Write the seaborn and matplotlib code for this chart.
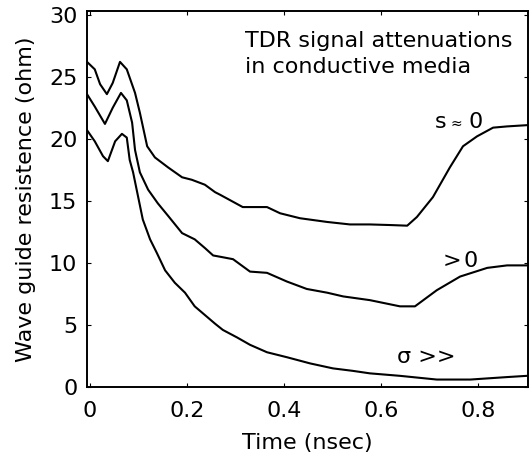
import matplotlib
matplotlib.use("Agg")
import matplotlib.pyplot as plt
import seaborn as sns
import pandas as pd

# --- data ---
t_top = [-0.006, 0.010, 0.021, 0.035, 0.047, 0.062, 0.076, 0.093, 0.103, 0.118, 0.134, 0.161,
         0.190, 0.210, 0.237, 0.258, 0.268, 0.315, 0.365, 0.392, 0.433, 0.489, 0.536, 0.577,
         0.620, 0.654, 0.674, 0.707, 0.742, 0.769, 0.798, 0.831, 0.860, 0.901]
r_top = [26.2, 25.6, 24.4, 23.6, 24.5, 26.2, 25.6, 23.7, 22.1, 19.4, 18.5, 17.7,
         16.9, 16.7, 16.3, 15.7, 15.5, 14.5, 14.5, 14.0, 13.6, 13.3, 13.1, 13.1,
         13.05, 13.0, 13.7, 15.3, 17.7, 19.4, 20.2, 20.9, 21.0, 21.1]

t_mid = [-0.006, 0.010, 0.031, 0.047, 0.064, 0.076, 0.087, 0.093, 0.103, 0.120, 0.140, 0.161,
         0.190, 0.216, 0.237, 0.254, 0.268, 0.295, 0.330, 0.365, 0.406, 0.447, 0.489, 0.522,
         0.577, 0.639, 0.670, 0.715, 0.763, 0.819, 0.860, 0.901]
r_mid = [23.6, 22.6, 21.2, 22.5, 23.7, 23.1, 21.3, 19.1, 17.3, 15.9, 14.8, 13.8,
         12.4, 11.9, 11.2, 10.6, 10.5, 10.3, 9.3, 9.2, 8.5, 7.9, 7.6, 7.3,
         7.0, 6.5, 6.5, 7.8, 8.9, 9.6, 9.8, 9.8]

t_low = [-0.006, 0.010, 0.027, 0.037, 0.052, 0.066, 0.076, 0.082, 0.089, 0.099, 0.109, 0.124,
         0.138, 0.155, 0.175, 0.196, 0.216, 0.231, 0.258, 0.274, 0.303, 0.330, 0.365, 0.406,
         0.454, 0.501, 0.542, 0.577, 0.639, 0.715, 0.784, 0.860, 0.901]
r_low = [20.7, 19.8, 18.6, 18.2, 19.8, 20.4, 20.1, 18.3, 17.3, 15.4, 13.5, 11.9,
         10.8, 9.4, 8.4, 7.6, 6.5, 6.0, 5.1, 4.6, 4.0, 3.4, 2.8, 2.4,
         1.9, 1.5, 1.3, 1.1, 0.9, 0.6, 0.6, 0.8, 0.9]

x_ticks = [0, 0.2, 0.4, 0.6, 0.8]
x_tick_labels = ["0", "0.2", "0.4", "0.6", "0.8"]
y_ticks = [0, 5, 10, 15, 20, 25, 30]
y_tick_labels = ["0", "5", "10", "15", "20", "25", "30"]

sns.set_theme(style="ticks")
plt.rcParams['font.family'] = ['DejaVu Sans']
plt.rcParams['text.color'] = 'black'
plt.rcParams['axes.labelcolor'] = 'black'
plt.rcParams['xtick.color'] = 'black'
plt.rcParams['ytick.color'] = 'black'

FS = 16

fig = plt.figure(figsize=(5.29, 4.66), dpi=100)
ax = fig.add_axes([87 / 529, 1 - 387 / 466, 441 / 529, 376 / 466])

for t, r in [(t_top, r_top), (t_mid, r_mid), (t_low, r_low)]:
    df = pd.DataFrame({"t": t, "r": r})
    sns.lineplot(data=df, x="t", y="r", ax=ax, color="black", linewidth=1.5, sort=False)

ax.set_xlim(-0.006, 0.903)
ax.set_ylim(0, 30.3)
ax.set_xticks(x_ticks)
ax.set_xticklabels(x_tick_labels)
ax.set_yticks(y_ticks)
ax.set_yticklabels(y_tick_labels)
ax.tick_params(direction="in", length=3, labelsize=FS, top=True, right=True, width=0.8,
               colors="black")
ax.tick_params(axis="x", pad=10)
ax.tick_params(axis="y", pad=7)
for s in ax.spines.values():
    s.set_linewidth(1.4)
    s.set_color("black")

ax.set_xlabel("Time (nsec)", fontsize=FS, labelpad=9, color="black")
ax.set_ylabel("Wave guide resistence (ohm)", fontsize=FS, labelpad=9, color="black")

ax.text(0.32, 27.4, "TDR signal attenuations", fontsize=FS, ha="left", va="baseline", color="black")
ax.text(0.32, 25.3, "in conductive media", fontsize=FS, ha="left", va="baseline", color="black")
ax.text(0.711, 20.9, "s", fontsize=FS, ha="left", va="baseline", color="black")
ax.text(0.743, 20.9, "\u2248", fontsize=10, ha="left", va="baseline", color="black")
ax.text(0.780, 20.9, "0", fontsize=FS, ha="left", va="baseline", color="black")
ax.text(0.728, 9.7, ">", fontsize=FS, ha="left", va="baseline", color="black")
ax.text(0.770, 9.7, "0", fontsize=FS, ha="left", va="baseline", color="black")
ax.text(0.633, 1.9, "\u03c3 >>", fontsize=FS, ha="left", va="baseline", color="black")

fig.savefig("out.png", dpi=100)
